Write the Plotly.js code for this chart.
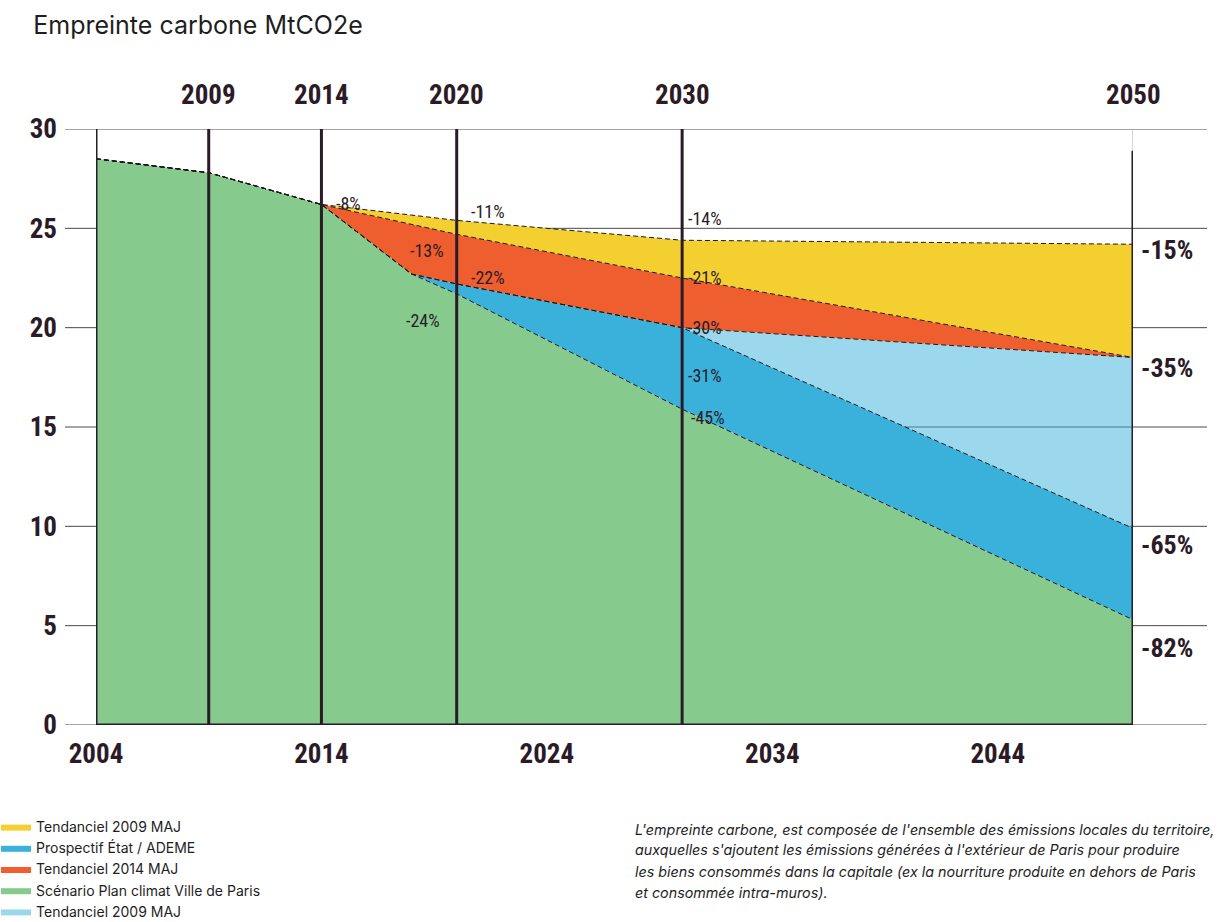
<!DOCTYPE html>
<html><head><meta charset="utf-8">
<script src="https://cdn.plot.ly/plotly-3.0.1.min.js"></script>
<style>html,body{margin:0;padding:0;background:#fff}</style>
</head><body>
<div id="chart" style="width:1230px;height:922px"></div>
<script>
// ---- data (MtCO2e) ----
const years = [2004, 2009, 2014, 2018, 2020, 2030, 2050];
const planClimat        = [28.5, 27.8, 26.2, 22.7, 21.7, 15.9, 5.3];
const prospectifAdeme   = [28.5, 27.8, 26.2, 22.7, 22.2, 20.0, 9.9];
const tendanciel2009bis = [28.5, 27.8, 26.2, 22.7, 22.2, 20.0, 18.5];
const tendanciel2014    = [28.5, 27.8, 26.2, 25.2, 24.7, 22.5, 18.5];
const tendanciel2009    = [28.5, 27.8, 26.2, 25.65, 25.4, 24.4, 24.2];

const bottomTicks = [2004, 2014, 2024, 2034, 2044];
const topYears = [2009, 2014, 2020, 2030, 2050];
const markerYears = [2004, 2009, 2014, 2020, 2030, 2050];
const yTicks = [0, 5, 10, 15, 20, 25, 30];

const pctTexts = ['-8%', '-11%', '-14%', '-13%', '-22%', '-21%', '-30%', '-24%', '-31%', '-45%'];
const endTexts = ['-15%', '-35%', '-65%', '-82%'];
const noteLines = [
  "L'empreinte carbone, est composée de l'ensemble des émissions locales du territoire,",
  "auxquelles s'ajoutent les émissions générées à l'extérieur de Paris pour produire",
  "les biens consommés dans la capitale (ex la nourriture produite en dehors de Paris",
  "et consommée intra-muros)."
];

// ---- styling / placement ----
const DARK = '#2B1B27';
const NARROW = '"Roboto Condensed", "Liberation Sans Narrow", "DejaVu Sans Condensed", sans-serif';
const SANS = 'Inter, "Noto Sans", sans-serif';
const pctPos = [[2015.2, 26.27], [2021.4, 25.87], [2031.0, 25.52], [2018.7, 23.9], [2021.4, 22.55],
                [2031.0, 22.55], [2031.0, 20.03], [2018.5, 20.38], [2031.0, 17.6], [2031.15, 15.5]];
const endPos = [23.9, 17.97, 9.06, 3.88];

const fillSeries = [
  {name: 'Scénario Plan climat Ville de Paris', y: planClimat, color: '#86CA8E', fill: 'tozeroy', rank: 4},
  {name: 'Prospectif État / ADEME', y: prospectifAdeme, color: '#3AB1DB', fill: 'tonexty', rank: 2},
  {name: 'Tendanciel 2009 MAJ', y: tendanciel2009bis, color: 'rgba(58,177,219,0.5)', fill: 'tonexty', rank: 5},
  {name: 'Tendanciel 2014 MAJ', y: tendanciel2014, color: '#EE5E2F', fill: 'tonexty', rank: 3},
  {name: 'Tendanciel 2009 MAJ', y: tendanciel2009, color: '#F4CF30', fill: 'tonexty', rank: 1}
];

const traces = fillSeries.map(s => ({
  type: 'scatter', mode: 'lines', x: years, y: s.y, name: s.name,
  fill: s.fill, fillcolor: s.color, line: {width: 0, color: s.color},
  legendrank: s.rank, hoverinfo: 'skip'
}));
fillSeries.forEach(s => traces.push({
  type: 'scatter', mode: 'lines', x: years, y: s.y, showlegend: false, hoverinfo: 'skip',
  line: {color: '#1a1a1a', width: 1, dash: '5px,3px'}
}));

const shapes = [];
yTicks.forEach(v => shapes.push({
  type: 'line', xref: 'paper', yref: 'y', x0: -0.0299, x1: 1.0714, y0: v, y1: v,
  line: {color: '#4a4a4a', width: 1}, layer: 'below'
}));
markerYears.forEach((yr, i) => shapes.push({
  type: 'line', xref: 'x', yref: 'y', x0: yr, x1: yr, y0: 0,
  y1: i === markerYears.length - 1 ? 28.9 : 30.35,
  line: {color: DARK, width: 3}, layer: 'above'
}));
shapes.push({type: 'line', xref: 'x', yref: 'y', x0: markerYears[markerYears.length - 1], x1: markerYears[markerYears.length - 1],
  y0: 28.9, y1: 30, line: {color: '#aaa', width: 1}, layer: 'above'});
shapes.push({type: 'line', xref: 'x', yref: 'y', x0: years[0], x1: years[years.length - 1], y0: 0, y1: 0,
  line: {color: DARK, width: 3}, layer: 'above'});

const annotations = [];
topYears.forEach(yr => annotations.push({
  text: String(yr), x: yr, xref: 'x', y: 1.057, yref: 'paper', showarrow: false,
  xanchor: 'center', yanchor: 'middle', font: {family: NARROW, size: 27, color: DARK, weight: 'bold'}
}));
pctTexts.forEach((t, i) => annotations.push({
  text: t, x: pctPos[i][0], y: pctPos[i][1], xref: 'x', yref: 'y', showarrow: false,
  xanchor: 'center', yanchor: 'middle', font: {family: NARROW, size: 18, color: DARK}
}));
endTexts.forEach((t, i) => annotations.push({
  text: t, x: years[years.length - 1], y: endPos[i], xref: 'x', yref: 'y', xshift: 6, showarrow: false,
  xanchor: 'left', yanchor: 'middle', font: {family: NARROW, size: 26, color: DARK, weight: 'bold'}
}));
noteLines.forEach((line, i) => annotations.push({
  text: line, xref: 'paper', yref: 'paper', x: 0.5178, y: -0.1745 - i * 21 / 596,
  xanchor: 'left', yanchor: 'middle', align: 'left', showarrow: false,
  font: {family: SANS, size: 14.3, color: '#1e1e1e', style: 'italic'}
}));

const layout = {
  width: 1230, height: 922,
  margin: {l: 96, r: 97, t: 129, b: 197, autoexpand: false},
  paper_bgcolor: '#fff', plot_bgcolor: 'rgba(0,0,0,0)',
  title: {text: 'Empreinte carbone MtCO2e', xref: 'container', yref: 'container',
    x: 0.027, xanchor: 'left', y: 0.973, yanchor: 'middle',
    font: {family: SANS, size: 25, color: '#1e1e1e'}},
  xaxis: {range: [2004, 2050], tickvals: bottomTicks, ticktext: bottomTicks.map(String),
    showgrid: false, zeroline: false, showline: false, ticks: '', ticklabelstandoff: 10, automargin: false,
    tickfont: {family: NARROW, size: 27, color: DARK, weight: 'bold'}, fixedrange: true},
  yaxis: {range: [0, 30], tickvals: yTicks, ticktext: yTicks.map(String), automargin: false,
    showgrid: false, zeroline: false, showline: false, ticks: '', ticklabelstandoff: 38,
    tickfont: {family: NARROW, size: 27, color: DARK, weight: 'bold'}, fixedrange: true},
  showlegend: true,
  legend: {x: -0.0964, xanchor: 'left', y: -0.1443, yanchor: 'top',
    orientation: 'v', bgcolor: 'rgba(0,0,0,0)', itemwidth: 30, traceorder: 'normal',
    font: {family: SANS, size: 14, color: '#1e1e1e'}},
  shapes: shapes, annotations: annotations, hovermode: false
};

Plotly.newPlot('chart', traces, layout, {displayModeBar: false, staticPlot: true});
</script>
</body></html>
